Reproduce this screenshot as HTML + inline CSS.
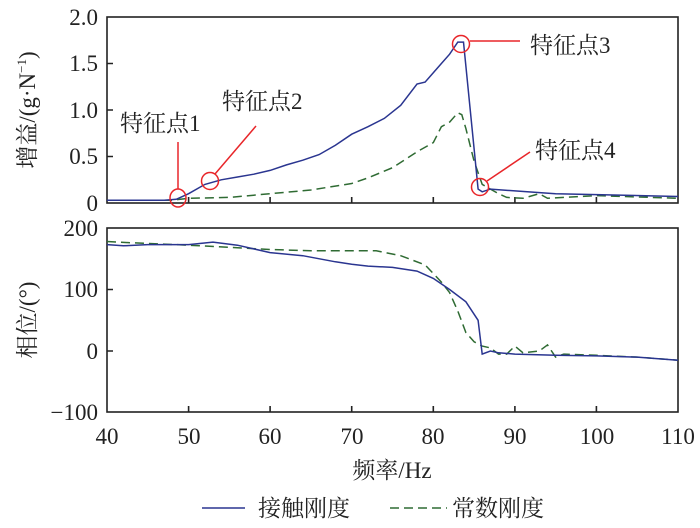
<!DOCTYPE html>
<html><head><meta charset="utf-8"><style>
body{margin:0;background:#fff}
svg{display:block}
text{font-family:"Liberation Serif","Noto Serif CJK SC",serif;fill:#222}
</style></head><body>
<svg id="s" width="700" height="528" xmlns="http://www.w3.org/2000/svg">
<g font-size="23" text-anchor="end">
<text x="98" y="25">2.0</text><text x="98" y="71">1.5</text><text x="98" y="118">1.0</text><text x="98" y="164">0.5</text><text x="98" y="211">0</text>
<text x="98" y="236">200</text><text x="98" y="297">100</text><text x="98" y="359">0</text><text x="98" y="420">−100</text>
</g>
<g font-size="23" text-anchor="middle">
<text x="107" y="444">40</text><text x="189" y="444">50</text><text x="270" y="444">60</text><text x="352" y="444">70</text><text x="433" y="444">80</text><text x="515" y="444">90</text><text x="597" y="444">100</text><text x="678" y="444">110</text>
<text x="392" y="478" font-size="23">频率/Hz</text>
</g>
<text transform="translate(35,110) rotate(-90)" font-size="23" text-anchor="middle">增益/(g·N<tspan font-size="13" dy="-9">−1</tspan><tspan dy="9">)</tspan></text>
<text transform="translate(35,320) rotate(-90)" font-size="23" text-anchor="middle">相位/(°)</text>
<g id="axes" fill="none" stroke="#222" stroke-width="1.6">
<rect x="107" y="17" width="571" height="186"/>
<rect x="107" y="228" width="571" height="184"/>
<path id="ticks" d=""/>
</g>
<g id="plots" fill="none" stroke-width="1.5"></g>
<g fill="none" stroke="#e8262a" stroke-width="1.5">
<ellipse cx="178" cy="198" rx="8" ry="9"/><line x1="178" y1="142" x2="178" y2="189"/>
<circle cx="210" cy="181" r="8.5"/><line x1="215" y1="174" x2="256" y2="126"/>
<circle cx="461" cy="44" r="8.5"/><line x1="470" y1="41" x2="520" y2="41"/>
<circle cx="480" cy="187" r="8.5"/><line x1="487" y1="181" x2="530" y2="152"/>
</g>
<g font-size="23">
<text x="120" y="131">特征点1</text><text x="222" y="109">特征点2</text>
<text x="530" y="53">特征点3</text><text x="535" y="158">特征点4</text>
</g>
<line x1="202" y1="508" x2="245" y2="508" stroke="#2a3590" stroke-width="1.6"/>
<text x="258" y="516" font-size="23">接触刚度</text>
<line x1="390" y1="508" x2="447" y2="508" stroke="#2f6b33" stroke-width="1.6" stroke-dasharray="9,5"/>
<text x="452" y="516" font-size="23">常数刚度</text>
</svg>
<script>
function fx(f){return 107+(f-40)*8.157}
function ft(g){return 203-g*93}
function fb(p){return 351-p*0.615}
var t="";
for(var f=50;f<110;f+=10){var x=fx(f).toFixed(1);t+="M"+x+",203V197M"+x+",412V406";}
[1.5,1,0.5].forEach(function(g){t+="M107,"+ft(g).toFixed(1)+"H113";});
[100,0].forEach(function(p){t+="M107,"+fb(p).toFixed(1)+"H113";});
document.getElementById("ticks").setAttribute("d",t);
function path(d,fy,col,dash){
 var p=document.createElementNS("http://www.w3.org/2000/svg","polyline");
 p.setAttribute("points",d.map(function(a){return fx(a[0]).toFixed(1)+","+fy(a[1]).toFixed(1)}).join(" "));
 p.setAttribute("stroke",col);if(dash)p.setAttribute("stroke-dasharray",dash);
 document.getElementById("plots").appendChild(p);
}
var bt=[[40,0.03],[47,0.03],[48.5,0.04],[50,0.1],[52,0.2],[54,0.25],[56,0.28],[58,0.31],[60,0.35],[62,0.41],[64,0.46],[66,0.52],[68,0.62],[70,0.74],[72,0.82],[74,0.91],[76,1.05],[78,1.28],[79,1.3],[80,1.4],[81,1.5],[82,1.6],[83,1.73],[83.7,1.73],[85.5,0.15],[86,0.12],[87,0.15],[90,0.13],[95,0.1],[100,0.09],[110,0.07]];
var gt=[[40,0.03],[48,0.03],[50,0.05],[55,0.06],[60,0.1],[65,0.14],[70,0.21],[72,0.27],[75,0.38],[78,0.55],[80,0.65],[81,0.82],[82,0.87],[83,0.97],[83.5,0.95],[84,0.8],[85,0.45],[86,0.2],[87,0.15],[88,0.1],[89,0.06],[91,0.05],[93,0.1],[94,0.05],[100,0.08],[110,0.05]];
var bb=[[40,173],[42,171],[45,173],[50,173],[53,177],[56,172],[60,160],[64,155],[68,145],[70,141],[72,138],[75,136],[78,130],[80,118],[82,100],[84,80],[85.5,50],[86,-5],[87,0],[88,-3],[90,-5],[95,-7],[100,-8],[105,-10],[110,-15]];
var gb=[[40,178],[43,176],[45,175],[50,172],[60,165],[65,163],[73,163],[76,155],[79,140],[81,112],[82,95],[83,65],[84,30],[85,15],[86,8],[87,5],[88,-5],[89,-5],[90,8],[91,-3],[93,0],[94,10],[95,-10],[96,-5],[100,-7],[105,-10],[110,-15]];
path(gt,ft,"#2f6b33","9,5");path(bt,ft,"#2a3590");
path(gb,fb,"#2f6b33","9,5");path(bb,fb,"#2a3590");
</script>
</body></html>
